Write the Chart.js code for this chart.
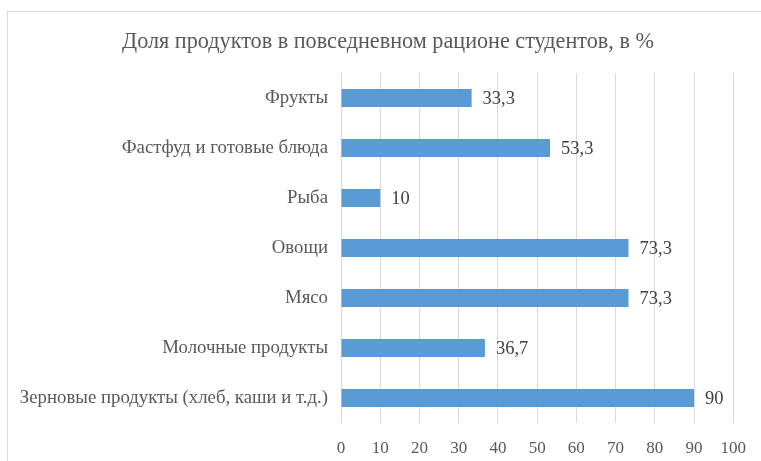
<!DOCTYPE html>
<html>
<head>
<meta charset="utf-8">
<script src="https://cdn.jsdelivr.net/npm/chart.js@4/dist/chart.umd.min.js"></script>
<style>
  html, body { margin: 0; padding: 0; background: #fff; }
  #wrap { position: relative; width: 761px; height: 461px; overflow: hidden; }
  #frame { position: absolute; left: 7px; top: 11px; width: 900px; height: 600px; border: 1px solid #d9d9d9; }
  canvas { position: absolute; left: 0; top: 0; }
</style>
</head>
<body>
<div id="wrap">
  <div id="frame"></div>
  <canvas id="myChart" width="761" height="461"></canvas>
</div>
<script>
const categories = [
    'Фрукты',
    'Фастфуд и готовые блюда',
    'Рыба',
    'Овощи',
    'Мясо',
    'Молочные продукты',
    'Зерновые продукты (хлеб, каши и т.д.)'
];
const shares = [33.3, 53.3, 10, 73.3, 73.3, 36.7, 90];
const titleText = 'Доля продуктов в повседневном рационе студентов, в %';

const serif = "'Liberation Serif', 'Times New Roman', serif";

// value labels at the end of each bar
const valueLabels = {
    id: 'valueLabels',
    afterDatasetsDraw(chart) {
        const ctx = chart.ctx;
        const meta = chart.getDatasetMeta(0);
        ctx.save();
        ctx.font = '18.5px ' + serif;
        ctx.fillStyle = '#404040';
        ctx.textAlign = 'left';
        ctx.textBaseline = 'middle';
        meta.data.forEach((bar, i) => {
            const txt = String(shares[i]).replace('.', ',');
            ctx.fillText(txt, bar.x + 11, bar.y + 1);
        });
        ctx.restore();
    }
};

// title centred on the outer frame rather than the canvas
const frameTitle = {
    id: 'frameTitle',
    afterDraw(chart) {
        const ctx = chart.ctx;
        ctx.save();
        ctx.font = '22.2px ' + serif;
        ctx.fillStyle = '#595959';
        ctx.textAlign = 'center';
        ctx.textBaseline = 'middle';
        ctx.fillText(titleText, 388, 42);
        ctx.restore();
    }
};

const config = {
    type: 'bar',
    data: {
        labels: categories,
        datasets: [{
            data: shares,
            backgroundColor: '#5b9bd5',
            borderWidth: 0,
            categoryPercentage: 0.6,
            barPercentage: 0.6
        }]
    },
    options: {
        indexAxis: 'y',
        responsive: false,
        animation: false,
        layout: { padding: { left: 0, right: 26, top: 73, bottom: 0 } },
        scales: {
            x: {
                min: 0,
                max: 100,
                ticks: {
                    stepSize: 10,
                    padding: 15,
                    color: '#595959',
                    font: { family: serif, size: 17 }
                },
                grid: { color: '#d9d9d9', drawTicks: false },
                border: { display: false },
                afterFit(scale) { scale.height = 38; }
            },
            y: {
                ticks: {
                    padding: 13,
                    color: '#595959',
                    font: { family: serif, size: 18.8 }
                },
                grid: { display: false, drawTicks: false },
                border: { display: false },
                afterFit(scale) { scale.width = 341; }
            }
        },
        plugins: {
            legend: { display: false },
            tooltip: { enabled: false },
            title: { display: false }
        }
    },
    plugins: [valueLabels, frameTitle]
};

new Chart(document.getElementById('myChart').getContext('2d'), config);
</script>
</body>
</html>
